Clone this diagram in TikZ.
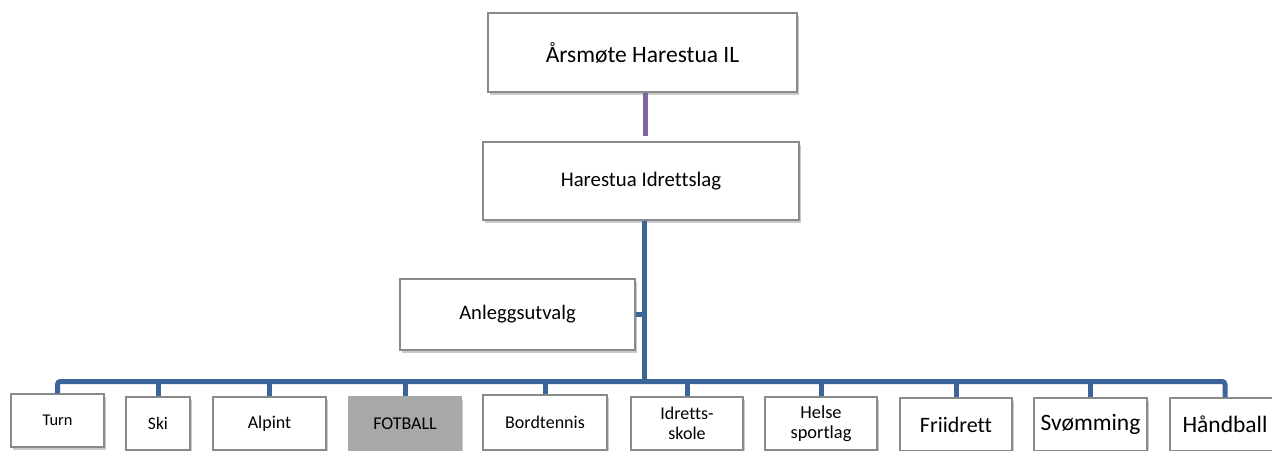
\documentclass[tikz,border=0pt]{standalone}
\usepackage{fontspec}
\setmainfont[Ligatures=NoCommon]{Carlito}
\usetikzlibrary{shadows}
\definecolor{busblue}{HTML}{3B6499}
\definecolor{linkpurple}{HTML}{8064A2}
\definecolor{boxgray}{HTML}{8A8A8A}
\definecolor{fotgray}{HTML}{A8A8AA}
\tikzset{
  orgbox/.style={draw=boxgray, line width=1.3pt, fill=white, inner sep=0pt, align=center,
    drop shadow={shadow xshift=1.5pt, shadow yshift=-2.5pt, opacity=0.35, fill=black!60}},
  busline/.style={draw=busblue, line width=5pt},
  purpleline/.style={draw=linkpurple, line width=5pt},
}
\begin{document}
\begin{tikzpicture}[x=1pt,y=-1pt]
\useasboundingbox (0,0) rectangle (1272,450);
\clip (0,0) rectangle (1272,450);
% top boxes
\node[orgbox, minimum width=309pt, minimum height=79pt, font=\fontsize{23.5}{26}\selectfont] (ars) at (642.5,52.5) {Årsmøte Harestua IL};
\node[orgbox, minimum width=316pt, minimum height=78pt, font=\fontsize{20.8}{24}\selectfont] (hil) at (641,181) {Harestua Idrettslag};
\node[orgbox, minimum width=235pt, minimum height=71pt, font=\fontsize{20.6}{24}\selectfont] (anl) at (517.5,314.5) {Anleggsutvalg};
% bottom boxes
\node[orgbox, minimum width=93pt, minimum height=53pt, font=\fontsize{16.4}{19}\selectfont] (turn) at (57.5,420.5) {Turn};
\node[orgbox, minimum width=64pt, minimum height=53pt, font=\fontsize{17.5}{20}\selectfont] (ski) at (158,423.5) {Ski};
\node[orgbox, minimum width=113pt, minimum height=53pt, font=\fontsize{18}{20}\selectfont] (alp) at (269.5,423.5) {Alpint};
\node[orgbox, fill=fotgray, draw=fotgray, minimum width=112pt, minimum height=53pt, font=\fontsize{18}{20}\selectfont] (fot) at (405,423.5) {FOTBALL};
\node[orgbox, minimum width=124pt, minimum height=55pt, font=\fontsize{18}{20}\selectfont] (bor) at (545,422.5) {Bordtennis};
\node[orgbox, minimum width=112pt, minimum height=53pt, font=\fontsize{18}{20}\selectfont] (idr) at (687,423.5) {Idretts-\\skole};
\node[orgbox, minimum width=112pt, minimum height=53pt, font=\fontsize{18.4}{20}\selectfont] (hel) at (821,423.5) {Helse\\sportlag};
\node[orgbox, minimum width=112pt, minimum height=53pt, font=\fontsize{22}{24}\selectfont] (fri) at (956,424.5) {Friidrett};
\node[orgbox, minimum width=113pt, minimum height=53pt, font=\fontsize{23.5}{26}\selectfont] (svo) at (1090.5,424.5) {Svømming};
\node[orgbox, minimum width=110pt, minimum height=53pt, font=\fontsize{23.5}{26}\selectfont] (han) at (1225,424.5) {Håndball};
% connectors
\coordinate (busmid) at (644,381.5);
\draw[purpleline, shorten >=5pt] ([xshift=2.5pt]ars.south) -- ([xshift=2.5pt]ars.south |- hil.north);
\draw[busline] ([xshift=3pt]hil.south) -- ([xshift=3pt]hil.south |- busmid);
\draw[busline] (anl.east) -- (anl.east -| busmid);
\draw[busline, rounded corners=3pt] (turn.north) -- (turn.north |- busmid) -- (han.north |- busmid) -- (han.north);
\foreach \n in {ski,alp,fot,bor,idr,hel,fri,svo}
  \draw[busline] (\n.north) -- (\n.north |- busmid);
\end{tikzpicture}
\end{document}
